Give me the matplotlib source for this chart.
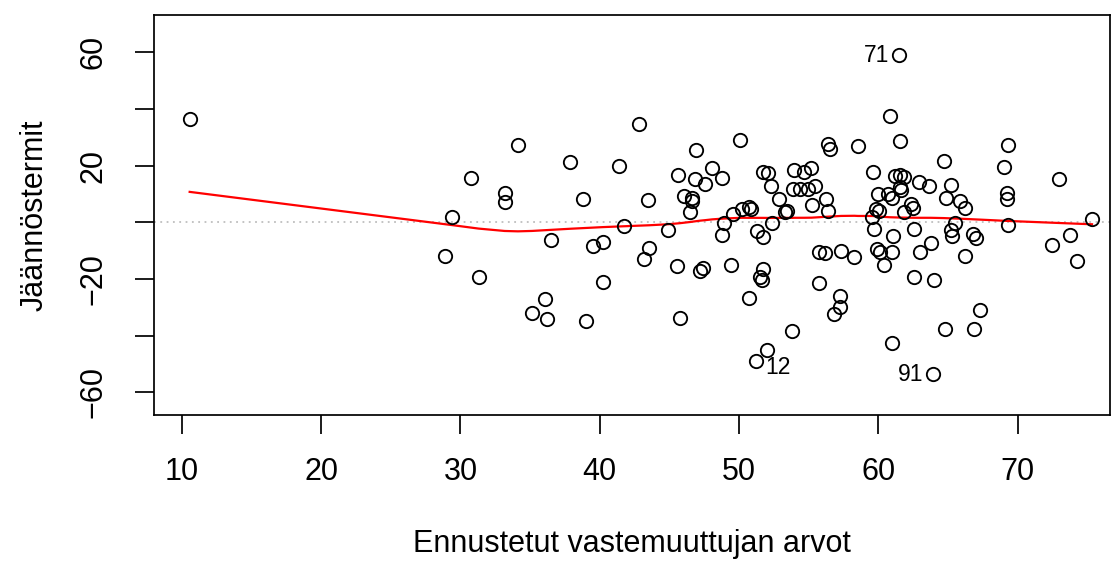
import numpy as np
import matplotlib
matplotlib.use("Agg")
import matplotlib.pyplot as plt

plt.rcParams['font.family'] = ['Liberation Sans', 'DejaVu Sans']

# Fitted values and residuals of the linear model
fitted = [
    10.56, 30.76, 29.40, 28.89, 31.31, 42.84, 34.13, 37.87, 41.38, 33.17,
    33.17, 38.82, 43.47, 41.74, 36.50, 39.52, 40.21, 43.55, 43.20, 40.21,
    36.10, 35.14, 36.20, 39.02, 50.04, 46.93, 56.36, 56.50, 45.62, 46.82,
    48.08, 48.75, 47.56, 46.02, 46.65, 46.65, 46.48, 51.72, 52.05, 52.32,
    52.87, 53.95, 54.69, 55.19, 53.85, 54.40, 54.93, 55.43, 56.27, 55.21,
    56.39, 53.33, 53.45, 50.19, 50.74, 50.88, 49.54, 48.90, 48.78, 52.34,
    51.29, 51.70, 44.92, 45.57, 47.17, 47.42, 49.43, 51.72, 51.53, 51.65,
    50.74, 55.75, 57.22, 57.22, 56.84, 45.74, 53.80, 52.03, 51.19, 55.71,
    56.14, 57.32, 61.49, 60.81, 61.53, 58.54, 69.31, 69.04, 64.69, 59.59,
    61.22, 61.58, 61.87, 62.92, 63.66, 65.22, 61.60, 61.56, 60.72, 59.95,
    61.00, 59.83, 60.07, 59.52, 62.35, 62.47, 61.85, 64.86, 65.89, 66.20,
    65.51, 69.24, 69.26, 69.28, 59.71, 61.05, 62.56, 63.78, 65.19, 65.29,
    66.80, 66.98, 58.28, 59.88, 60.10, 61.00, 60.40, 62.99, 66.20, 62.56,
    63.97, 67.30, 64.78, 66.89, 61.00, 63.95, 72.50, 72.99, 75.34, 73.78,
    74.26,
]
residuals = [
    36.4, 15.5, 1.8, -11.8, -19.4, 34.6, 27.2, 21.3, 19.9, 10.2,
    7.1, 8.3, 7.9, -1.3, -6.3, -8.2, -7.1, -9.2, -13.0, -21.1,
    -27.1, -31.9, -34.1, -34.8, 29.1, 25.4, 27.5, 25.9, 16.6, 15.4,
    19.3, 15.5, 13.6, 9.2, 8.7, 7.6, 3.6, 17.7, 17.5, 12.8,
    8.3, 18.4, 17.7, 19.2, 11.6, 11.9, 11.9, 12.9, 8.3, 6.0,
    4.1, 3.5, 4.1, 4.8, 5.5, 4.8, 2.8, -0.3, -4.4, -0.1,
    -3.1, -5.3, -2.7, -15.3, -17.1, -16.0, -15.2, -16.4, -19.2, -20.4,
    -26.6, -21.5, -25.9, -30.0, -32.5, -33.6, -38.4, -44.9, -48.9, -10.4,
    -10.9, -10.1, 59.0, 37.6, 28.8, 26.9, 27.2, 19.4, 21.7, 17.7,
    16.3, 16.8, 16.1, 14.3, 12.7, 13.3, 11.4, 12.6, 10.0, 9.9,
    8.5, 4.8, 3.9, 1.8, 6.5, 4.9, 3.6, 8.5, 7.5, 5.1,
    -0.1, 10.2, 8.3, -0.9, -2.5, -4.9, -2.4, -7.4, -2.6, -4.7,
    -4.1, -5.5, -12.1, -9.5, -10.4, -10.6, -15.2, -10.6, -11.9, -19.2,
    -20.5, -30.9, -37.5, -37.6, -42.7, -53.6, -8.1, 15.4, 1.1, -4.5,
    -13.8,
]

# Observations flagged by their case number
id_labels = ["12", "71", "91"]
id_index = [78, 82, 135]

x_ticks = [10, 20, 30, 40, 50, 60, 70]
y_ticks = [-60, -40, -20, 0, 20, 40, 60]
y_tick_labels = ["\u221260", "", "\u221220", "", "20", "", "60"]


def lowess(x, y, f=2.0 / 3.0, iters=3):
    """Locally weighted scatterplot smoother (Cleveland)."""
    x = np.asarray(x, float)
    y = np.asarray(y, float)
    order = np.argsort(x, kind="mergesort")
    x, y = x[order], y[order]
    n = len(x)
    ns = max(min(int(round(f * n)), n), 2)
    rw = np.ones(n)
    ys = np.zeros(n)
    for it in range(iters + 1):
        for i in range(n):
            d = np.abs(x - x[i])
            h = np.sort(d)[ns - 1]
            if h > 0:
                u = np.clip(d / h, 0, 1)
                w = (1 - u ** 3) ** 3
            else:
                w = (d == 0).astype(float)
            w = w * rw
            sw = w.sum()
            xm = (w * x).sum() / sw
            ym = (w * y).sum() / sw
            sxx = (w * (x - xm) ** 2).sum()
            if sxx > 1e-12 * (x.max() - x.min()) ** 2:
                b = (w * (x - xm) * (y - ym)).sum() / sxx
                ys[i] = ym + b * (x[i] - xm)
            else:
                ys[i] = ym
        if it == iters:
            break
        res = y - ys
        m = np.median(np.abs(res))
        if m == 0:
            break
        u = np.clip(res / (6 * m), -1, 1)
        rw = (1 - u ** 2) ** 2
    return x, ys


fig = plt.figure(figsize=(11.15, 5.61), dpi=100)
ax = fig.add_axes([154 / 1115, 1 - 414.5 / 561, (1110 - 154) / 1115, (414.5 - 15.4) / 561])

ax.axhline(0, color="#bebebe", lw=1.3, ls=(0, (1, 2.5)), zorder=1)

ax.plot(fitted, residuals, ls="none", marker="o", ms=9.6, mfc="none",
        mec="black", mew=1.35, zorder=3)

sx, sy = lowess(fitted, residuals)
ax.plot(sx, sy, color="red", lw=1.6, zorder=2)

lab_x = [fitted[j] for j in id_index]
mid = (min(lab_x) + max(lab_x)) / 2
for lab, i in zip(id_labels, id_index):
    xi, yi = fitted[i], residuals[i]
    if xi < mid:
        ax.annotate(lab, (xi, yi), xytext=(7, -5), textcoords="offset points",
                    ha="left", va="center", fontsize=16.5)
    else:
        ax.annotate(lab, (xi, yi), xytext=(-7, 0), textcoords="offset points",
                    ha="right", va="center", fontsize=16.5)

ax.set_xlim(8.0, 76.63)
ax.set_ylim(-67.8, 72.98)
ax.set_xticks(x_ticks)
ax.set_xticklabels([str(t) for t in x_ticks])
ax.set_yticks(y_ticks)
ax.set_yticklabels(y_tick_labels, rotation=90, va="center")

for s in ax.spines.values():
    s.set_linewidth(1.25)
ax.tick_params(axis="both", length=13.5, width=1.25, labelsize=22, direction="out")
ax.tick_params(axis="x", pad=17)
ax.tick_params(axis="y", pad=19)

ax.set_xlabel("Ennustetut vastemuuttujan arvot", fontsize=22, labelpad=30)
ax.set_ylabel("Jäännöstermit", fontsize=22, labelpad=21)

fig.savefig("out.png", dpi=100)
